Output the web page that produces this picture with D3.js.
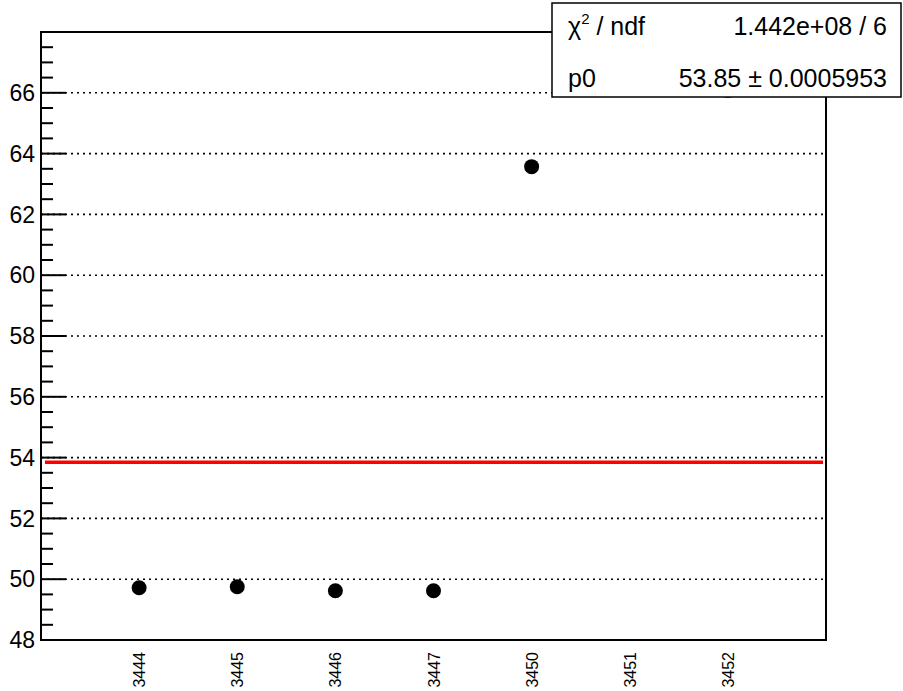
<!DOCTYPE html>
<html><head><meta charset="utf-8">
<script src="https://cdn.jsdelivr.net/npm/d3@7"></script>
<style>body{margin:0;background:#fff;} svg{display:block;font-family:"Liberation Sans",Arial,sans-serif;}</style>
</head><body>
<svg id="c" width="903" height="691"></svg>
<script>
const runs = ["3444","3445","3446","3447","3450","3451","3452"];
const values = [49.72, 49.75, 49.62, 49.62, 63.57, null, 66.08];
const yTicks = [48,50,52,54,56,58,60,62,64,66];
const fitValue = 53.85;
const fitRange = [0.04, 7.97];
const statsLabels = ["\u03C7\u00B2 / ndf", "p0"];
const statsValues = ["1.442e+08 / 6", "53.85 \u00B1 0.0005953"];

const svg = d3.select("#c");
const L=41, R=826, T=32, B=640;
const x = d3.scaleLinear().domain([0,8]).range([L,R]);
const y = d3.scaleLinear().domain([48,68]).range([B,T]);

const plot = svg.append("g");
plot.append("clipPath").attr("id","clip").append("rect").attr("x",L).attr("y",T).attr("width",R-L).attr("height",B-T);

// grid
plot.selectAll("line.grid").data(yTicks).enter().append("line")
  .attr("x1",L).attr("x2",R).attr("y1",d=>y(d)).attr("y2",d=>y(d))
  .attr("stroke","#000").attr("stroke-width",1.6).attr("stroke-dasharray","2,4");

// minor/major ticks on left
const minor = d3.range(48,68.01,0.5);
plot.selectAll("line.tk").data(minor).enter().append("line")
  .attr("x1",L).attr("x2",d=> (Math.abs(d%2)<1e-6)? L+25 : L+12)
  .attr("y1",d=>y(d)).attr("y2",d=>y(d))
  .attr("stroke","#000").attr("stroke-width",2);

// frame
plot.append("rect").attr("x",L).attr("y",T).attr("width",R-L).attr("height",B-T)
  .attr("fill","none").attr("stroke","#000").attr("stroke-width",2);

// y labels
plot.selectAll("text.yl").data(yTicks).enter().append("text")
  .attr("x",35).attr("y",d=>y(d)).attr("dy","0.36em").attr("text-anchor","end")
  .attr("font-size",23).text(d=>d);

// x labels
plot.selectAll("text.xl").data(runs).enter().append("text")
  .attr("transform",(d,i)=>`translate(${x(i+1)+6},652) rotate(-90)`)
  .attr("text-anchor","end").attr("font-size",16).text(d=>d);

// fit line
plot.append("line").attr("x1",x(fitRange[0])).attr("x2",x(fitRange[1]))
  .attr("y1",y(fitValue)).attr("y2",y(fitValue))
  .attr("stroke","#ff0000").attr("stroke-width",3.5);

// points
plot.append("g").attr("clip-path","url(#clip)").selectAll("circle")
  .data(values.map((v,i)=>({v,i})).filter(d=>d.v!==null)).enter().append("circle")
  .attr("cx",d=>x(d.i+1)).attr("cy",d=>y(d.v)).attr("r",7.5).attr("fill","#000");

// stats box
const sb = svg.append("g");
sb.append("rect").attr("x",552).attr("y",3).attr("width",349).attr("height",94)
  .attr("fill","#fff").attr("stroke","#000").attr("stroke-width",1.5);
sb.selectAll("text.sl").data(statsLabels).enter().append("text")
  .attr("x",568).attr("y",(d,i)=>35+i*52).attr("font-size",25)
  .each(function(d,i){
    const t=d3.select(this);
    if(i===0){
      t.append("tspan").text("\u03C7");
      t.append("tspan").attr("font-size",15).attr("dy",-11).text("2");
      t.append("tspan").attr("dy",11).text(" / ndf");
    } else t.text(d);
  });
sb.selectAll("text.sv").data(statsValues).enter().append("text")
  .attr("x",887).attr("y",(d,i)=>35+i*52).attr("font-size",25).attr("text-anchor","end").text(d=>d);
</script>
</body></html>
